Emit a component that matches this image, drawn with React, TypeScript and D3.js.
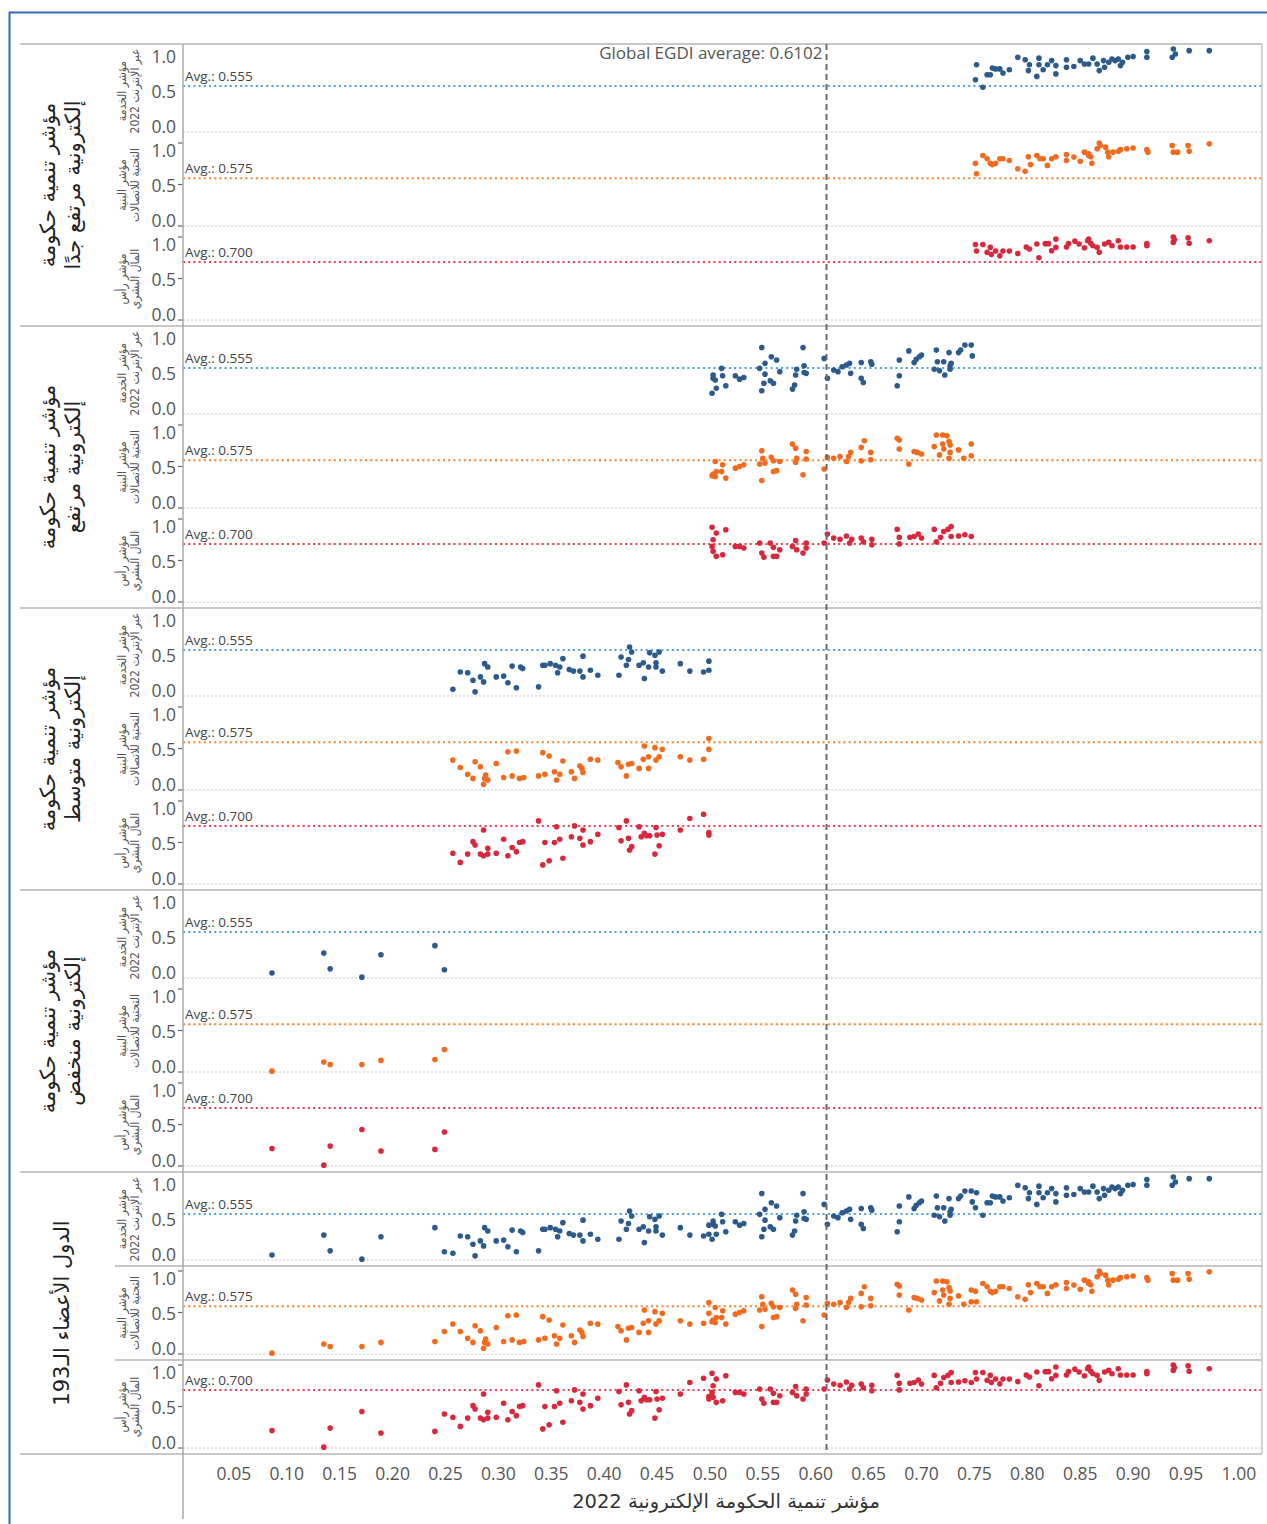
import React, { useEffect, useRef } from "react";
import * as d3 from "d3";

// ---------- DATA ----------
// [EGDI, indicator value]
const veryHighOSI: [number, number][] = [
  [0.751,0.63],[0.752,0.81],[0.758,0.54],[0.762,0.69],[0.765,0.69],[0.767,0.77],[0.770,0.76],[0.774,0.76],[0.777,0.71],[0.783,0.75],
  [0.791,0.90],[0.798,0.87],[0.802,0.81],[0.801,0.74],[0.809,0.67],[0.811,0.89],[0.811,0.81],[0.815,0.75],[0.819,0.81],[0.823,0.86],
  [0.827,0.80],[0.827,0.70],[0.837,0.87],[0.837,0.78],[0.844,0.79],[0.850,0.86],[0.854,0.82],[0.858,0.82],[0.862,0.89],[0.866,0.82],
  [0.868,0.74],[0.872,0.86],[0.873,0.78],[0.877,0.84],[0.880,0.88],[0.883,0.86],[0.886,0.88],[0.888,0.80],[0.890,0.84],[0.895,0.90],
  [0.900,0.91],[0.913,0.97],[0.913,0.90],[0.938,1.0],[0.940,0.94],[0.937,0.90],[0.953,0.98],[0.972,0.98]
];
const veryHighTII: [number, number][] = [
  [0.751,0.755],[0.752,0.63],[0.758,0.85],[0.762,0.81],[0.765,0.755],[0.767,0.74],[0.770,0.755],[0.774,0.81],[0.777,0.81],[0.783,0.79],
  [0.791,0.69],[0.798,0.66],[0.803,0.74],[0.801,0.835],[0.809,0.85],[0.812,0.81],[0.815,0.81],[0.819,0.73],[0.823,0.81],[0.827,0.835],
  [0.837,0.86],[0.837,0.79],[0.844,0.83],[0.850,0.78],[0.854,0.89],[0.858,0.85],[0.858,0.87],[0.860,0.835],[0.861,0.755],[0.866,0.93],
  [0.868,1.0],[0.869,0.97],[0.874,0.95],[0.876,0.89],[0.877,0.835],[0.881,0.89],[0.886,0.90],[0.888,0.92],[0.894,0.93],[0.900,0.94],
  [0.913,0.92],[0.914,0.89],[0.937,0.97],[0.938,0.89],[0.942,0.89],[0.952,0.97],[0.953,0.90],[0.972,0.99]
];
const veryHighHCI: [number, number][] = [
  [0.751,0.91],[0.752,0.83],[0.758,0.91],[0.762,0.815],[0.765,0.875],[0.766,0.79],[0.770,0.83],[0.774,0.775],[0.777,0.83],[0.783,0.83],
  [0.791,0.80],[0.799,0.88],[0.802,0.855],[0.809,0.915],[0.811,0.75],[0.817,0.92],[0.820,0.92],[0.823,0.835],[0.827,0.975],[0.827,0.875],
  [0.837,0.88],[0.839,0.92],[0.845,0.95],[0.849,0.915],[0.854,0.87],[0.857,0.955],[0.858,0.975],[0.860,0.925],[0.862,0.895],[0.866,0.875],
  [0.868,0.815],[0.873,0.915],[0.877,0.935],[0.880,0.895],[0.886,0.955],[0.888,0.88],[0.894,0.88],[0.900,0.88],[0.913,0.92],[0.913,0.895],
  [0.938,1.0],[0.938,0.935],[0.939,0.97],[0.952,0.99],[0.953,0.925],[0.972,0.955]
];

const highOSI: [number, number][] = [
  [0.502,0.25],[0.503,0.47],[0.505,0.41],[0.506,0.31],[0.503,0.43],[0.511,0.55],[0.512,0.46],[0.515,0.34],[0.524,0.46],[0.528,0.42],
  [0.532,0.44],[0.547,0.55],[0.549,0.80],[0.552,0.61],[0.552,0.48],[0.549,0.28],[0.551,0.37],[0.558,0.69],[0.557,0.40],[0.560,0.37],
  [0.563,0.65],[0.566,0.51],[0.578,0.30],[0.580,0.35],[0.581,0.47],[0.582,0.54],[0.588,0.80],[0.589,0.58],[0.589,0.50],[0.591,0.49],
  [0.608,0.67],[0.611,0.43],[0.617,0.53],[0.621,0.51],[0.625,0.57],[0.629,0.59],[0.632,0.61],[0.633,0.49],[0.643,0.62],[0.643,0.43],
  [0.645,0.38],[0.652,0.63],[0.653,0.60],[0.677,0.34],[0.679,0.46],[0.679,0.65],[0.688,0.76],[0.693,0.62],[0.695,0.66],[0.698,0.69],
  [0.700,0.71],[0.712,0.54],[0.714,0.77],[0.715,0.63],[0.717,0.52],[0.721,0.63],[0.722,0.47],[0.726,0.74],[0.727,0.58],[0.728,0.61],
  [0.727,0.54],[0.735,0.74],[0.737,0.77],[0.741,0.83],[0.747,0.83],[0.748,0.70]
];
const highTII: [number, number][] = [
  [0.502,0.39],[0.503,0.41],[0.505,0.38],[0.506,0.44],[0.505,0.56],[0.512,0.52],[0.511,0.44],[0.515,0.36],[0.524,0.48],[0.528,0.50],
  [0.532,0.52],[0.547,0.53],[0.549,0.69],[0.550,0.60],[0.549,0.33],[0.552,0.54],[0.558,0.61],[0.560,0.57],[0.560,0.44],[0.563,0.45],
  [0.566,0.56],[0.578,0.77],[0.581,0.72],[0.582,0.60],[0.581,0.55],[0.588,0.40],[0.591,0.59],[0.591,0.68],[0.608,0.47],[0.611,0.61],
  [0.617,0.60],[0.623,0.62],[0.629,0.56],[0.631,0.62],[0.633,0.67],[0.643,0.73],[0.646,0.81],[0.643,0.57],[0.652,0.67],[0.652,0.58],
  [0.677,0.84],[0.679,0.82],[0.679,0.71],[0.688,0.53],[0.693,0.68],[0.696,0.67],[0.700,0.65],[0.712,0.74],[0.714,0.88],[0.717,0.64],
  [0.720,0.88],[0.720,0.77],[0.721,0.71],[0.724,0.87],[0.726,0.80],[0.727,0.76],[0.727,0.67],[0.726,0.60],[0.735,0.70],[0.740,0.60],
  [0.747,0.77],[0.747,0.63]
];
const highHCI: [number, number][] = [
  [0.502,0.90],[0.506,0.83],[0.503,0.75],[0.502,0.67],[0.503,0.61],[0.506,0.55],[0.512,0.57],[0.515,0.87],[0.524,0.67],[0.528,0.67],
  [0.532,0.65],[0.547,0.71],[0.549,0.59],[0.551,0.54],[0.557,0.71],[0.560,0.66],[0.560,0.55],[0.566,0.63],[0.563,0.55],[0.578,0.67],
  [0.581,0.74],[0.582,0.63],[0.588,0.59],[0.591,0.71],[0.591,0.65],[0.608,0.71],[0.611,0.82],[0.617,0.77],[0.623,0.755],[0.629,0.795],
  [0.632,0.71],[0.634,0.755],[0.643,0.77],[0.645,0.725],[0.653,0.755],[0.653,0.69],[0.677,0.875],[0.679,0.78],[0.679,0.70],[0.689,0.78],
  [0.693,0.79],[0.697,0.82],[0.700,0.77],[0.712,0.875],[0.714,0.725],[0.718,0.78],[0.721,0.85],[0.725,0.875],[0.728,0.91],[0.728,0.79],
  [0.735,0.795],[0.741,0.81],[0.747,0.79]
];

const middleOSI: [number, number][] = [
  [0.257,0.08],[0.264,0.29],[0.271,0.28],[0.276,0.19],[0.278,0.05],[0.283,0.23],[0.286,0.17],[0.287,0.39],[0.290,0.35],[0.298,0.23],
  [0.305,0.24],[0.309,0.16],[0.313,0.36],[0.317,0.10],[0.321,0.35],[0.323,0.33],[0.338,0.11],[0.342,0.37],[0.344,0.37],[0.349,0.39],
  [0.354,0.37],[0.356,0.28],[0.358,0.35],[0.361,0.45],[0.367,0.32],[0.371,0.30],[0.377,0.30],[0.380,0.48],[0.380,0.23],[0.387,0.31],
  [0.394,0.25],[0.414,0.25],[0.416,0.47],[0.421,0.37],[0.423,0.44],[0.424,0.59],[0.426,0.53],[0.433,0.37],[0.437,0.40],[0.438,0.21],
  [0.442,0.35],[0.443,0.52],[0.448,0.49],[0.449,0.40],[0.449,0.35],[0.452,0.53],[0.455,0.30],[0.472,0.39],[0.481,0.30],[0.494,0.29],
  [0.499,0.42],[0.499,0.31]
];
const middleTII: [number, number][] = [
  [0.257,0.36],[0.264,0.27],[0.271,0.19],[0.276,0.14],[0.278,0.34],[0.283,0.28],[0.286,0.07],[0.287,0.14],[0.288,0.18],[0.290,0.12],
  [0.298,0.32],[0.305,0.15],[0.309,0.46],[0.313,0.17],[0.317,0.47],[0.320,0.14],[0.324,0.15],[0.338,0.17],[0.342,0.45],[0.344,0.19],
  [0.348,0.41],[0.353,0.22],[0.355,0.12],[0.358,0.19],[0.361,0.35],[0.369,0.22],[0.372,0.14],[0.377,0.29],[0.379,0.26],[0.380,0.21],
  [0.387,0.37],[0.394,0.36],[0.413,0.33],[0.416,0.28],[0.421,0.17],[0.423,0.31],[0.426,0.32],[0.433,0.26],[0.438,0.53],[0.437,0.37],
  [0.442,0.40],[0.442,0.26],[0.448,0.51],[0.449,0.36],[0.452,0.40],[0.455,0.49],[0.472,0.40],[0.481,0.36],[0.494,0.37],[0.499,0.49],
  [0.499,0.62]
];
const middleHCI: [number, number][] = [
  [0.257,0.37],[0.264,0.26],[0.271,0.36],[0.276,0.51],[0.278,0.47],[0.283,0.36],[0.286,0.65],[0.286,0.34],[0.290,0.43],[0.290,0.36],
  [0.298,0.37],[0.305,0.54],[0.309,0.34],[0.313,0.44],[0.317,0.39],[0.320,0.50],[0.323,0.51],[0.338,0.76],[0.342,0.23],[0.344,0.50],
  [0.348,0.28],[0.353,0.50],[0.355,0.69],[0.358,0.54],[0.361,0.31],[0.369,0.57],[0.372,0.70],[0.377,0.55],[0.380,0.65],[0.380,0.47],
  [0.387,0.51],[0.394,0.60],[0.414,0.68],[0.416,0.52],[0.421,0.76],[0.423,0.55],[0.424,0.41],[0.426,0.45],[0.433,0.69],[0.435,0.57],
  [0.438,0.61],[0.440,0.58],[0.443,0.58],[0.448,0.36],[0.449,0.68],[0.450,0.59],[0.452,0.46],[0.455,0.60],[0.472,0.65],[0.481,0.79],
  [0.494,0.84],[0.499,0.62],[0.499,0.59]
];

const lowOSI: [number, number][] = [
  [0.086,0.06],[0.135,0.30],[0.141,0.11],[0.171,0.01],[0.189,0.28],[0.240,0.39],[0.249,0.10]
];
const lowTII: [number, number][] = [
  [0.086,0.01],[0.135,0.12],[0.141,0.09],[0.171,0.09],[0.189,0.14],[0.240,0.15],[0.249,0.27]
];
const lowHCI: [number, number][] = [
  [0.086,0.21],[0.135,0.01],[0.141,0.24],[0.171,0.44],[0.189,0.18],[0.240,0.20],[0.249,0.41]
];

const groupLabels: string[][] = [
  ["مؤشر تنمية حكومة", "إلكترونية مرتفع جدًا"],
  ["مؤشر تنمية حكومة", "إلكترونية مرتفع"],
  ["مؤشر تنمية حكومة", "إلكترونية متوسط"],
  ["مؤشر تنمية حكومة", "إلكترونية منخفض"],
  ["الدول الأعضاء الـ193"],
];
const indicatorLabels: string[][] = [
  ["مؤشر الخدمة", "عبر الإنترنت 2022"],
  ["مؤشر البنية", "التحتية للاتصالات"],
  ["مؤشر رأس", "المال البشري"],
];
const indicatorAverages: number[] = [0.555, 0.575, 0.7];
const globalEGDI = 0.6102;
const xTicks: number[] = [0.05,0.1,0.15,0.2,0.25,0.3,0.35,0.4,0.45,0.5,0.55,0.6,0.65,0.7,0.75,0.8,0.85,0.9,0.95,1.0];
const yTicks: number[] = [1.0, 0.5, 0.0];
const xTitle = "مؤشر تنمية الحكومة الإلكترونية 2022";

const groupsData: [number, number][][][] = [
  [veryHighOSI, veryHighTII, veryHighHCI],
  [highOSI, highTII, highHCI],
  [middleOSI, middleTII, middleHCI],
  [lowOSI, lowTII, lowHCI],
  [
    [...veryHighOSI, ...highOSI, ...middleOSI, ...lowOSI],
    [...veryHighTII, ...highTII, ...middleTII, ...lowTII],
    [...veryHighHCI, ...highHCI, ...middleHCI, ...lowHCI],
  ],
];

const dotColors = ["#2c5a8a", "#f26a1d", "#d7283c"];
const avgColors = ["#4aa2dc", "#f5822c", "#ea3e4e"];

const W = 1267;
const H = 1524;
const PLOT_L = 183;
const PLOT_R = 1262;
const TOP = 44;
const GROUP_H = 282;
const SUB_H = 94;

export default function App() {
  const ref = useRef<SVGSVGElement>(null);

  useEffect(() => {
    const svg = d3.select(ref.current);
    svg.selectAll("*").remove();
    const x = d3.scaleLinear().domain([0, 1]).range([181, 1238.9]);
    const numFont = "'Open Sans', 'Noto Sans', sans-serif";
    const arFont = "'DejaVu Sans', sans-serif";
    const arCond = "'DejaVu Sans Condensed', 'DejaVu Sans', sans-serif";

    svg.append("rect").attr("width", W).attr("height", H).attr("fill", "#fff");

    // outer blue frame
    svg.append("line").attr("x1", 9).attr("x2", W).attr("y1", 12.5).attr("y2", 12.5)
      .attr("stroke", "#2f6cb3").attr("stroke-width", 2);
    svg.append("line").attr("x1", 9.5).attr("x2", 9.5).attr("y1", 12).attr("y2", H)
      .attr("stroke", "#2f6cb3").attr("stroke-width", 2);

    const nG = groupsData.length;

    for (let g = 0; g < nG; g++) {
      const gTop = TOP + g * GROUP_H;
      for (let s = 0; s < 3; s++) {
        const top = gTop + s * SUB_H;
        const y = d3.scaleLinear().domain([0, 1]).range([top + 88, top + 5]);

        // faint zero line
        svg.append("line").attr("x1", PLOT_L).attr("x2", PLOT_R)
          .attr("y1", y(0)).attr("y2", y(0))
          .attr("stroke", "#d9d9d9").attr("stroke-width", 1.5).attr("stroke-dasharray", "2,2");

        // avg line
        const av = indicatorAverages[s];
        svg.append("line").attr("x1", PLOT_L).attr("x2", PLOT_R)
          .attr("y1", y(av)).attr("y2", y(av))
          .attr("stroke", avgColors[s]).attr("stroke-width", 2).attr("stroke-dasharray", "2,3.2");
        svg.append("text").attr("x", 185).attr("y", y(av) - 10)
          .attr("dominant-baseline", "central")
          .attr("font-family", numFont).attr("font-size", 13.5).attr("fill", "#444")
          .text(`Avg.: ${av.toFixed(3)}`);

        // y tick labels
        yTicks.forEach((t) => {
          const off = t === 1 ? 7 : t === 0 ? -6 : 0;
          svg.append("text").attr("x", 176).attr("y", y(t) + off)
            .attr("text-anchor", "end").attr("dominant-baseline", "central")
            .attr("font-family", numFont).attr("font-size", 17.5).attr("fill", "#555")
            .text(t.toFixed(1));
          if (s > 0) {
            svg.append("line").attr("x1", 178).attr("x2", 183)
              .attr("y1", y(t)).attr("y2", y(t))
              .attr("stroke", "#666").attr("stroke-width", 1.2);
          }
        });

        // indicator label (rotated)
        const cy = top + SUB_H / 2;
        const lines = indicatorLabels[s];
        lines.forEach((ln, i) => {
          svg.append("text")
            .attr("transform", `translate(${122 + i * 13},${cy}) rotate(-90)`)
            .attr("text-anchor", "middle").attr("dominant-baseline", "central")
            .attr("font-family", arCond).attr("font-size", 12).attr("fill", "#555")
            .text(ln);
        });

        // dots
        svg.append("g").selectAll("circle").data(groupsData[g][s]).join("circle")
          .attr("cx", (d) => x(d[0])).attr("cy", (d) => y(d[1]))
          .attr("r", 2.8).attr("fill", dotColors[s]);
      }

      // group label
      const gl = groupLabels[g];
      const gcy = gTop + GROUP_H / 2;
      gl.forEach((ln, i) => {
        const cx = gl.length === 1 ? 62 : 48 + i * 25;
        svg.append("text")
          .attr("transform", `translate(${cx},${gcy}) rotate(-90)`)
          .attr("text-anchor", "middle").attr("dominant-baseline", "central")
          .attr("font-family", arFont).attr("font-size", 21).attr("fill", "#222")
          .text(ln);
      });

      // group separator line
      svg.append("line").attr("x1", 20).attr("x2", PLOT_R)
        .attr("y1", gTop).attr("y2", gTop)
        .attr("stroke", "#b5b5b5").attr("stroke-width", 1.5);
    }
    // bottom line
    const bottom = TOP + nG * GROUP_H;
    svg.append("line").attr("x1", 20).attr("x2", PLOT_R)
      .attr("y1", bottom).attr("y2", bottom)
      .attr("stroke", "#b5b5b5").attr("stroke-width", 1.5);
    // last group sub-row separators
    [1, 2].forEach((s) => {
      const yy = TOP + 4 * GROUP_H + s * SUB_H;
      svg.append("line").attr("x1", 115).attr("x2", PLOT_R)
        .attr("y1", yy).attr("y2", yy)
        .attr("stroke", "#b5b5b5").attr("stroke-width", 1.5);
    });

    // right border
    svg.append("line").attr("x1", PLOT_R).attr("x2", PLOT_R)
      .attr("y1", TOP).attr("y2", bottom)
      .attr("stroke", "#c4c4c4").attr("stroke-width", 1.5);
    // y axis line
    svg.append("line").attr("x1", PLOT_L).attr("x2", PLOT_L)
      .attr("y1", TOP).attr("y2", 1519)
      .attr("stroke", "#aaa").attr("stroke-width", 1.5);

    // global avg dashed line
    svg.append("line").attr("x1", x(globalEGDI)).attr("x2", x(globalEGDI))
      .attr("y1", TOP).attr("y2", bottom - 3)
      .attr("stroke", "#6a6a6a").attr("stroke-width", 2).attr("stroke-dasharray", "6,4");
    svg.append("text").attr("x", x(globalEGDI) - 4).attr("y", 52)
      .attr("text-anchor", "end").attr("dominant-baseline", "central")
      .attr("font-family", numFont).attr("font-size", 17).attr("fill", "#555")
      .text(`Global EGDI average: ${globalEGDI.toFixed(4)}`);

    // x axis tick labels
    xTicks.forEach((t) => {
      svg.append("text").attr("x", x(t)).attr("y", 1473)
        .attr("text-anchor", "middle").attr("dominant-baseline", "central")
        .attr("font-family", numFont).attr("font-size", 17.5).attr("fill", "#555")
        .text(t.toFixed(2));
    });
    svg.append("text").attr("x", 726).attr("y", 1501)
      .attr("text-anchor", "middle").attr("dominant-baseline", "central")
      .attr("font-family", arFont).attr("font-size", 19.5).attr("fill", "#333")
      .text(xTitle);
  }, []);

  return (
    <svg
      ref={ref}
      width={W}
      height={H}
      style={{ position: "absolute", left: 0, top: 0, display: "block" }}
    />
  );
}
